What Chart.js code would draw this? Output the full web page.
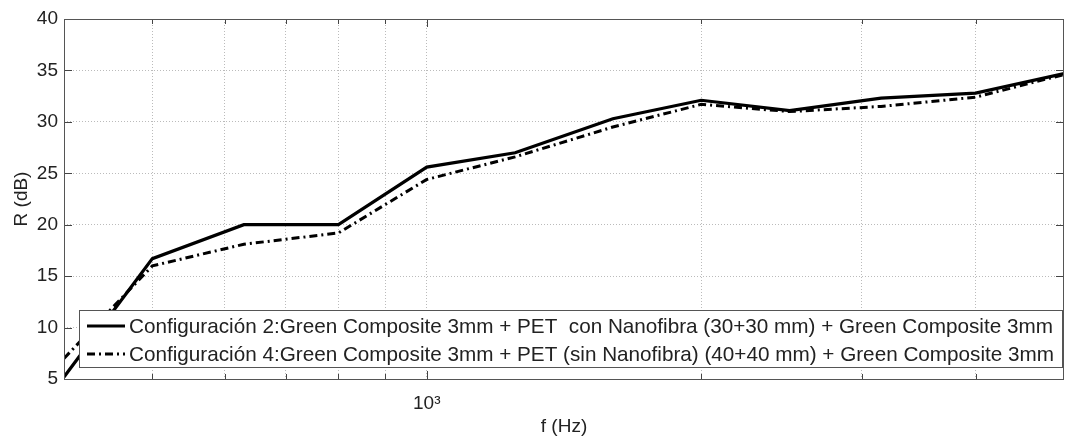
<!DOCTYPE html>
<html>
<head>
<meta charset="utf-8">
<script src="https://cdn.jsdelivr.net/npm/chart.js@4"></script>
<style>
  html, body { margin: 0; padding: 0; background: #fff; }
  #wrap { width: 1068px; height: 438px; }
</style>
</head>
<body>
<div id="wrap"><canvas id="rChart" width="1068" height="438"></canvas></div>
<script>
// frecuencias de tercio de octava (Hz)
const freqs = [400, 500, 630, 800, 1000, 1250, 1600, 2000, 2500, 3150, 4000, 5000];
const config2 = [5.2, 16.7, 20.0, 20.0, 25.6, 27.0, 30.3, 32.1, 31.1, 32.3, 32.8, 34.7];
const config4 = [7.0, 16.0, 18.1, 19.2, 24.4, 26.6, 29.5, 31.7, 31.0, 31.5, 32.4, 34.6];
const xGrid = [500, 600, 700, 800, 900, 1000, 2000, 3000, 4000];
const yTicks = [5, 10, 15, 20, 25, 30, 35, 40];
const labels = [
  "Configuración 2:Green Composite 3mm + PET  con Nanofibra (30+30 mm) + Green Composite 3mm",
  "Configuración 4:Green Composite 3mm + PET (sin Nanofibra) (40+40 mm) + Green Composite 3mm"
];

const FONT = "'Liberation Sans', Arial, sans-serif";
const dashDot = [8, 4, 2, 4];

// marcas hacia dentro y caja de ejes estilo MATLAB
const axesBox = {
  id: "axesBox",
  afterDatasetsDraw(chart) {
    const { ctx, chartArea: a, scales } = chart;
    ctx.save();
    ctx.strokeStyle = "#444";
    ctx.lineWidth = 1;
    ctx.beginPath();
    xGrid.forEach(v => {
      const x = Math.round(scales.x.getPixelForValue(v)) + 0.5;
      const len = v === 1000 ? 8 : 5;
      ctx.moveTo(x, a.bottom); ctx.lineTo(x, a.bottom - len);
      ctx.moveTo(x, a.top); ctx.lineTo(x, a.top + len);
    });
    yTicks.forEach(v => {
      const y = Math.round(scales.y.getPixelForValue(v)) + 0.5;
      ctx.moveTo(a.left, y); ctx.lineTo(a.left + 8, y);
      ctx.moveTo(a.right, y); ctx.lineTo(a.right - 8, y);
    });
    ctx.stroke();
    ctx.strokeStyle = "#555";
    ctx.strokeRect(Math.round(a.left) + 0.5, Math.round(a.top) + 0.5,
      Math.round(a.right - a.left) - 1, Math.round(a.bottom - a.top));

    // leyenda dentro del área
    const lx = a.left + 15, ly = a.top + 291, lw = a.right - a.left - 17, lh = 57;
    ctx.fillStyle = "#fff";
    ctx.fillRect(lx, ly, lw, lh);
    ctx.strokeStyle = "#555";
    ctx.strokeRect(lx + 0.5, ly + 0.5, lw, lh);
    ctx.font = "20.7px " + FONT;
    ctx.textBaseline = "middle";
    chart.data.datasets.forEach((ds, i) => {
      const y = ly + 16 + i * 28;
      ctx.strokeStyle = "#000";
      ctx.lineWidth = 3;
      ctx.setLineDash(ds.borderDash || []);
      ctx.beginPath();
      ctx.moveTo(lx + 8, y); ctx.lineTo(lx + 46, y);
      ctx.stroke();
      ctx.setLineDash([]);
      ctx.fillStyle = "#222";
      ctx.fillText(ds.label, lx + 50, y + 1);
    });
    ctx.restore();
  }
};

new Chart(document.getElementById("rChart").getContext("2d"), {
  type: "line",
  data: {
    datasets: [
      {
        label: labels[0],
        data: freqs.map((f, i) => ({ x: f, y: config2[i] })),
        borderColor: "#000",
        borderWidth: 3.2,
        pointRadius: 0,
        tension: 0
      },
      {
        label: labels[1],
        data: freqs.map((f, i) => ({ x: f, y: config4[i] })),
        borderColor: "#000",
        borderWidth: 3,
        borderDash: dashDot,
        pointRadius: 0,
        tension: 0
      }
    ]
  },
  options: {
    responsive: false,
    animation: false,
    layout: { padding: { top: 19, right: 4, left: 0, bottom: 0 } },
    plugins: {
      legend: { display: false },
      tooltip: { enabled: false }
    },
    scales: {
      x: {
        type: "logarithmic",
        min: 400,
        max: 5000,
        afterBuildTicks: scale => { scale.ticks = xGrid.map(v => ({ value: v })); },
        afterFit: scale => { scale.height = 59; },
        ticks: {
          autoSkip: false,
          maxRotation: 0,
          padding: 13,
          color: "#222",
          font: { family: FONT, size: 19 },
          callback: v => (v === 1000 ? "10³" : "")
        },
        grid: {
          color: "#bbb",
          lineWidth: 1,
          drawTicks: false
        },
        border: { display: false, dash: [1, 2] },
        title: {
          display: true,
          text: "f (Hz)",
          color: "#222",
          font: { family: FONT, size: 19 },
          padding: { top: 0, bottom: 0 }
        }
      },
      y: {
        min: 5,
        max: 40,
        afterBuildTicks: scale => { scale.ticks = yTicks.map(v => ({ value: v })); },
        afterFit: scale => { scale.width = 64; },
        ticks: {
          padding: 6,
          color: "#222",
          font: { family: FONT, size: 19 }
        },
        grid: {
          color: "#bbb",
          lineWidth: 1,
          drawTicks: false
        },
        border: { display: false, dash: [1, 2] },
        title: {
          display: true,
          text: "R (dB)",
          color: "#222",
          font: { family: FONT, size: 19 },
          padding: { top: 10, bottom: 0 }
        }
      }
    }
  },
  plugins: [axesBox]
});
</script>
</body>
</html>
